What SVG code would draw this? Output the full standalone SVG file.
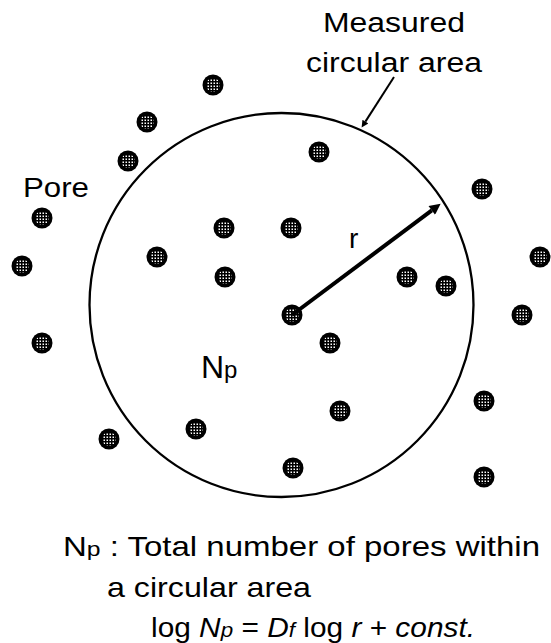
<svg xmlns="http://www.w3.org/2000/svg" xmlns:xlink="http://www.w3.org/1999/xlink" width="551" height="643" viewBox="0 0 551 643">
  <style>
    .txt { font-family: "Liberation Sans", Arial, Helvetica, sans-serif; fill: #000; }
    .it { font-style: italic; }
    .boundary { fill: none; stroke: #000; stroke-width: 2.3; }
    .conn { stroke: #000; fill: none; }
  </style>
  <defs>
    <pattern id="dots" width="3" height="3" patternUnits="userSpaceOnUse">
      <rect width="3" height="3" fill="#000"/>
      <rect x="0.5" y="0.5" width="1.5" height="1.5" fill="#fff"/>
    </pattern>
    <g id="pore">
      <circle r="10.5" fill="#000"/>
      <circle r="7" fill="url(#dots)"/>
    </g>
    <marker id="headBig" viewBox="0 0 10 10" refX="0" refY="5" markerWidth="14" markerHeight="11" markerUnits="userSpaceOnUse" orient="auto">
      <path d="M0,0 L10,5 L0,10 z" fill="#000"/>
    </marker>
    <marker id="headSmall" viewBox="0 0 10 10" refX="0" refY="5" markerWidth="10" markerHeight="7" markerUnits="userSpaceOnUse" orient="auto">
      <path d="M0,0 L10,5 L0,10 z" fill="#000"/>
    </marker>
  </defs>
  <rect width="551" height="643" fill="#fff"/>

  <g id="measured-area">
    <circle class="boundary" cx="281.5" cy="305" r="192"/>
  </g>

  <g id="pores">
    <g id="pore-1"><use xlink:href="#pore" href="#pore" x="213" y="85"/></g>
    <g id="pore-2"><use xlink:href="#pore" href="#pore" x="147" y="122"/></g>
    <g id="pore-3"><use xlink:href="#pore" href="#pore" x="128" y="161"/></g>
    <g id="pore-4"><use xlink:href="#pore" href="#pore" x="319" y="152"/></g>
    <g id="pore-5"><use xlink:href="#pore" href="#pore" x="482" y="189"/></g>
    <g id="pore-6"><use xlink:href="#pore" href="#pore" x="42" y="218"/></g>
    <g id="pore-7"><use xlink:href="#pore" href="#pore" x="224" y="228"/></g>
    <g id="pore-8"><use xlink:href="#pore" href="#pore" x="291" y="228"/></g>
    <g id="pore-9"><use xlink:href="#pore" href="#pore" x="157" y="257"/></g>
    <g id="pore-10"><use xlink:href="#pore" href="#pore" x="22" y="266"/></g>
    <g id="pore-11"><use xlink:href="#pore" href="#pore" x="225" y="277"/></g>
    <g id="pore-12"><use xlink:href="#pore" href="#pore" x="407" y="277"/></g>
    <g id="pore-13"><use xlink:href="#pore" href="#pore" x="446" y="286"/></g>
    <g id="pore-14"><use xlink:href="#pore" href="#pore" x="540" y="257"/></g>
    <g id="pore-15"><use xlink:href="#pore" href="#pore" x="292" y="315"/></g>
    <g id="pore-16"><use xlink:href="#pore" href="#pore" x="330" y="343"/></g>
    <g id="pore-17"><use xlink:href="#pore" href="#pore" x="522" y="315"/></g>
    <g id="pore-18"><use xlink:href="#pore" href="#pore" x="42" y="343"/></g>
    <g id="pore-19"><use xlink:href="#pore" href="#pore" x="340" y="411"/></g>
    <g id="pore-20"><use xlink:href="#pore" href="#pore" x="484" y="401"/></g>
    <g id="pore-21"><use xlink:href="#pore" href="#pore" x="196" y="429"/></g>
    <g id="pore-22"><use xlink:href="#pore" href="#pore" x="109" y="439"/></g>
    <g id="pore-23"><use xlink:href="#pore" href="#pore" x="293" y="468"/></g>
    <g id="pore-24"><use xlink:href="#pore" href="#pore" x="484" y="477"/></g>
  </g>

  <g id="connectors">
    <line class="conn" x1="292" y1="315" x2="431.8" y2="210.4" stroke-width="4" marker-end="url(#headBig)"/>
    <line class="conn" x1="394" y1="77" x2="365.4" y2="121.6" stroke-width="2" marker-end="url(#headSmall)"/>
  </g>

  <g id="labels">
    <g id="label-measured">
      <text class="txt" x="323" y="32" font-size="27" textLength="142" lengthAdjust="spacingAndGlyphs">Measured</text>
      <text class="txt" x="306" y="72" font-size="27" textLength="176" lengthAdjust="spacingAndGlyphs">circular area</text>
    </g>
    <g id="label-pore">
      <text class="txt" x="23" y="197" font-size="28" textLength="66" lengthAdjust="spacingAndGlyphs">Pore</text>
    </g>
    <g id="label-r">
      <text class="txt" x="349" y="248" font-size="28">r</text>
    </g>
    <g id="label-np">
      <text class="txt" x="201" y="378" font-size="32">N<tspan font-size="24">p</tspan></text>
    </g>
    <g id="legend">
      <text class="txt" x="63" y="556" font-size="28" textLength="477" lengthAdjust="spacingAndGlyphs">N<tspan font-size="21">p</tspan> : Total number of pores within</text>
      <text class="txt" x="107" y="597" font-size="28" textLength="204" lengthAdjust="spacingAndGlyphs">a circular area</text>
      <text class="txt" x="151" y="637" font-size="28" textLength="324" lengthAdjust="spacingAndGlyphs">log <tspan class="it">N</tspan><tspan class="it" font-size="21">p</tspan> = <tspan class="it">D</tspan><tspan class="it" font-size="21">f</tspan> log <tspan class="it">r</tspan> + <tspan class="it">const.</tspan></text>
    </g>
  </g>
</svg>
